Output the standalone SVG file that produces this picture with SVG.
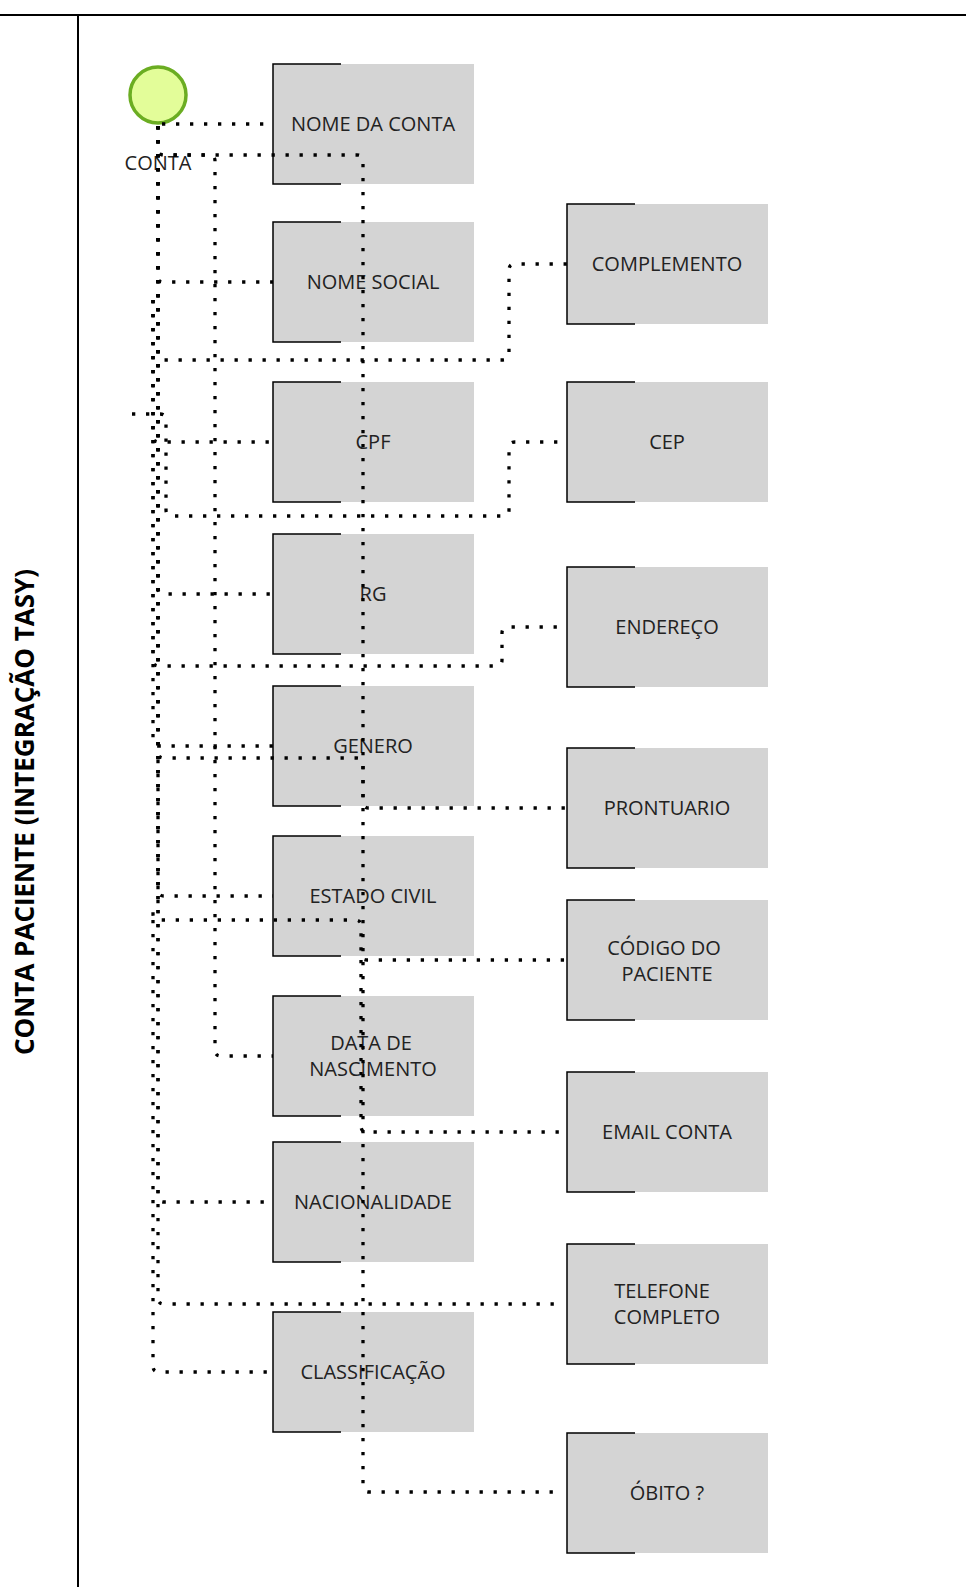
<svg xmlns="http://www.w3.org/2000/svg" width="966" height="1587" viewBox="0 0 966 1587">
<style>
.box{fill:#d4d4d4;stroke:none}
.edge{fill:none;stroke:#000;stroke-width:1.5}
.lbl{font-family:"Open Sans","Liberation Sans",sans-serif;font-size:20px;fill:#222;text-anchor:middle}
.lane{stroke:#000;stroke-width:2;fill:none}
.title{font-family:"Open Sans","Liberation Sans",sans-serif;font-size:26px;font-weight:bold;fill:#000;text-anchor:middle}
.conn path{fill:none;stroke:#000;stroke-width:3.3;stroke-dasharray:3.3 10.7}
</style>
<rect width="966" height="1587" fill="#fff"/>
<g id="lane">
<line class="lane" x1="0" y1="15" x2="966" y2="15"/>
<line class="lane" x1="78" y1="15" x2="78" y2="1587"/>
<text class="title" transform="translate(34,812) rotate(-90)">CONTA PACIENTE (INTEGRAÇÃO TASY)</text>
</g>
<g id="start">
<circle cx="158" cy="95" r="28" fill="#e3fd99" stroke="#6bad22" stroke-width="3.5"/>
<text class="lbl" x="158" y="170">CONTA</text>
</g>
<g id="nome-da-conta"><rect class="box" x="273" y="64" width="201" height="120"/><path class="edge" d="M341 64H273V184H341"/><text class="lbl" x="373" y="131">NOME DA CONTA</text></g>
<g id="nome-social"><rect class="box" x="273" y="222" width="201" height="120"/><path class="edge" d="M341 222H273V342H341"/><text class="lbl" x="373" y="289">NOME SOCIAL</text></g>
<g id="cpf"><rect class="box" x="273" y="382" width="201" height="120"/><path class="edge" d="M341 382H273V502H341"/><text class="lbl" x="373" y="449">CPF</text></g>
<g id="rg"><rect class="box" x="273" y="534" width="201" height="120"/><path class="edge" d="M341 534H273V654H341"/><text class="lbl" x="373" y="601">RG</text></g>
<g id="genero"><rect class="box" x="273" y="686" width="201" height="120"/><path class="edge" d="M341 686H273V806H341"/><text class="lbl" x="373" y="753">GENERO</text></g>
<g id="estado-civil"><rect class="box" x="273" y="836" width="201" height="120"/><path class="edge" d="M341 836H273V956H341"/><text class="lbl" x="373" y="903">ESTADO CIVIL</text></g>
<g id="data-nascimento"><rect class="box" x="273" y="996" width="201" height="120"/><path class="edge" d="M341 996H273V1116H341"/><text class="lbl" x="371" y="1050">DATA DE</text><text class="lbl" x="373" y="1076">NASCIMENTO</text></g>
<g id="nacionalidade"><rect class="box" x="273" y="1142" width="201" height="120"/><path class="edge" d="M341 1142H273V1262H341"/><text class="lbl" x="373" y="1209">NACIONALIDADE</text></g>
<g id="classificacao"><rect class="box" x="273" y="1312" width="201" height="120"/><path class="edge" d="M341 1312H273V1432H341"/><text class="lbl" x="373" y="1379">CLASSIFICAÇÃO</text></g>
<g id="complemento"><rect class="box" x="567" y="204" width="201" height="120"/><path class="edge" d="M635 204H567V324H635"/><text class="lbl" x="667" y="271">COMPLEMENTO</text></g>
<g id="cep"><rect class="box" x="567" y="382" width="201" height="120"/><path class="edge" d="M635 382H567V502H635"/><text class="lbl" x="667" y="449">CEP</text></g>
<g id="endereco"><rect class="box" x="567" y="567" width="201" height="120"/><path class="edge" d="M635 567H567V687H635"/><text class="lbl" x="667" y="634">ENDEREÇO</text></g>
<g id="prontuario"><rect class="box" x="567" y="748" width="201" height="120"/><path class="edge" d="M635 748H567V868H635"/><text class="lbl" x="667" y="815">PRONTUARIO</text></g>
<g id="codigo-paciente"><rect class="box" x="567" y="900" width="201" height="120"/><path class="edge" d="M635 900H567V1020H635"/><text class="lbl" x="664" y="955">CÓDIGO DO</text><text class="lbl" x="667" y="981">PACIENTE</text></g>
<g id="email-conta"><rect class="box" x="567" y="1072" width="201" height="120"/><path class="edge" d="M635 1072H567V1192H635"/><text class="lbl" x="667" y="1139">EMAIL CONTA</text></g>
<g id="telefone-completo"><rect class="box" x="567" y="1244" width="201" height="120"/><path class="edge" d="M635 1244H567V1364H635"/><text class="lbl" x="662" y="1298">TELEFONE</text><text class="lbl" x="667" y="1324">COMPLETO</text></g>
<g id="obito"><rect class="box" x="567" y="1433" width="201" height="120"/><path class="edge" d="M635 1433H567V1553H635"/><text class="lbl" x="667" y="1500">ÓBITO ?</text></g>
<g id="connectors" class="conn">
<path d="M162 124H273"/>
<path d="M158 126V277Q158 282 163 282H273"/>
<path d="M158 126V354Q158 360 164 360H503Q509 360 509 354V270Q509 264 515 264H567"/>
<path d="M132 414H160Q166 414 166 420V510Q166 516 172 516H503Q509 516 509 510V448Q509 442 515 442H567"/>
<path d="M153 300V436Q153 442 159 442H273"/>
<path d="M158 126V588Q158 594 164 594H273"/>
<path d="M153 300V660Q153 666 159 666H496Q502 666 502 660V633Q502 627 508 627H560"/>
<path d="M153 300V740Q153 746 159 746H273"/>
<path d="M158 126V752Q158 758 164 758H357Q363 758 363 764V802Q363 808 369 808H567"/>
<path d="M158 126V890Q158 896 164 896H273"/>
<path d="M158 760V906L153 912V914Q153 920 159 920H355Q361 920 361 926V954Q361 960 367 960H567"/>
<path d="M158 126V149Q158 155 164 155H209Q215 155 215 161V1050Q215 1056 221 1056H273"/>
<path d="M158 126V149Q158 155 164 155H357Q363 155 363 161V1486Q363 1492 369 1492H563"/>
<path d="M361 960V1126Q361 1132 367 1132H567"/>
<path d="M158 126V1196Q158 1202 164 1202H273"/>
<path d="M158 126V1298Q158 1304 164 1304H560"/>
<path d="M153 920V1366Q153 1372 159 1372H273"/>
</g>
</svg>
